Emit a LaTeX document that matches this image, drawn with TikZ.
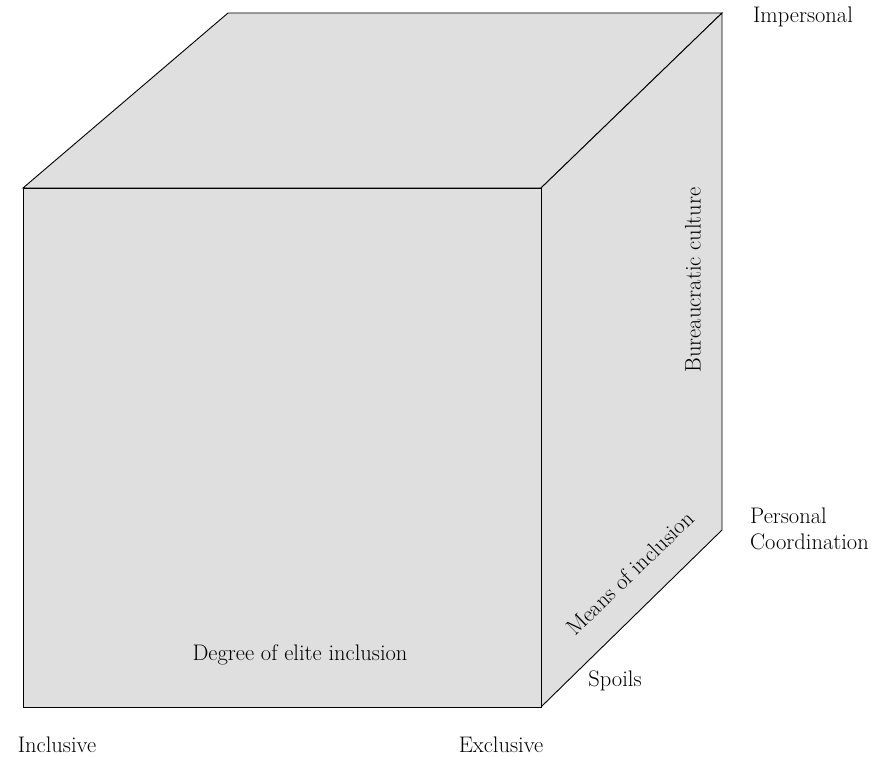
\documentclass[tikz,border=0pt]{standalone}
\usepackage{amsmath}

\tikzset{
  face/.style={draw=black,fill=gray!25,line width=0.9pt,line join=miter},
  lbl/.style={font=\fontsize{22.5}{26}\selectfont,inner sep=0pt}
}

\begin{document}
\begin{tikzpicture}[x=1pt,y=-1pt]
	\useasboundingbox (0,0) rectangle (878,757);
	\coordinate (A) at (23,188);
	\coordinate (B) at (541,188);
	\coordinate (C) at (541,707);
	\coordinate (D) at (23,707);
	\coordinate (E) at (228,13);
	\coordinate (F) at (722,13);
	\coordinate (G) at (722,530);

	\filldraw[face] (A) -- (E) -- (F) -- (B) -- cycle;
	\filldraw[face] (B) -- (F) -- (G) -- (C) -- cycle;
	\filldraw[face] (A) -- (B) -- (C) -- (D) -- cycle;

	\node[lbl] (impersonal) at (803,17) {Impersonal};
	\node[lbl,rotate=90] (bureau) at (693,280) {Bureaucratic culture};
	\node[lbl,anchor=west,align=left] (personal) at (750,529) {Personal\\Coordination};
	\node[lbl,rotate=44] (means) at (630,573) {Means of inclusion};
	\node[lbl] (spoils) at (615,681) {Spoils};
	\node[lbl] (degree) at (300,655) {Degree of elite inclusion};
	\node[lbl] (inclusive) at (57,745) {Inclusive};
	\node[lbl] (exclusive) at (501,745) {Exclusive};
\end{tikzpicture}
\end{document}
